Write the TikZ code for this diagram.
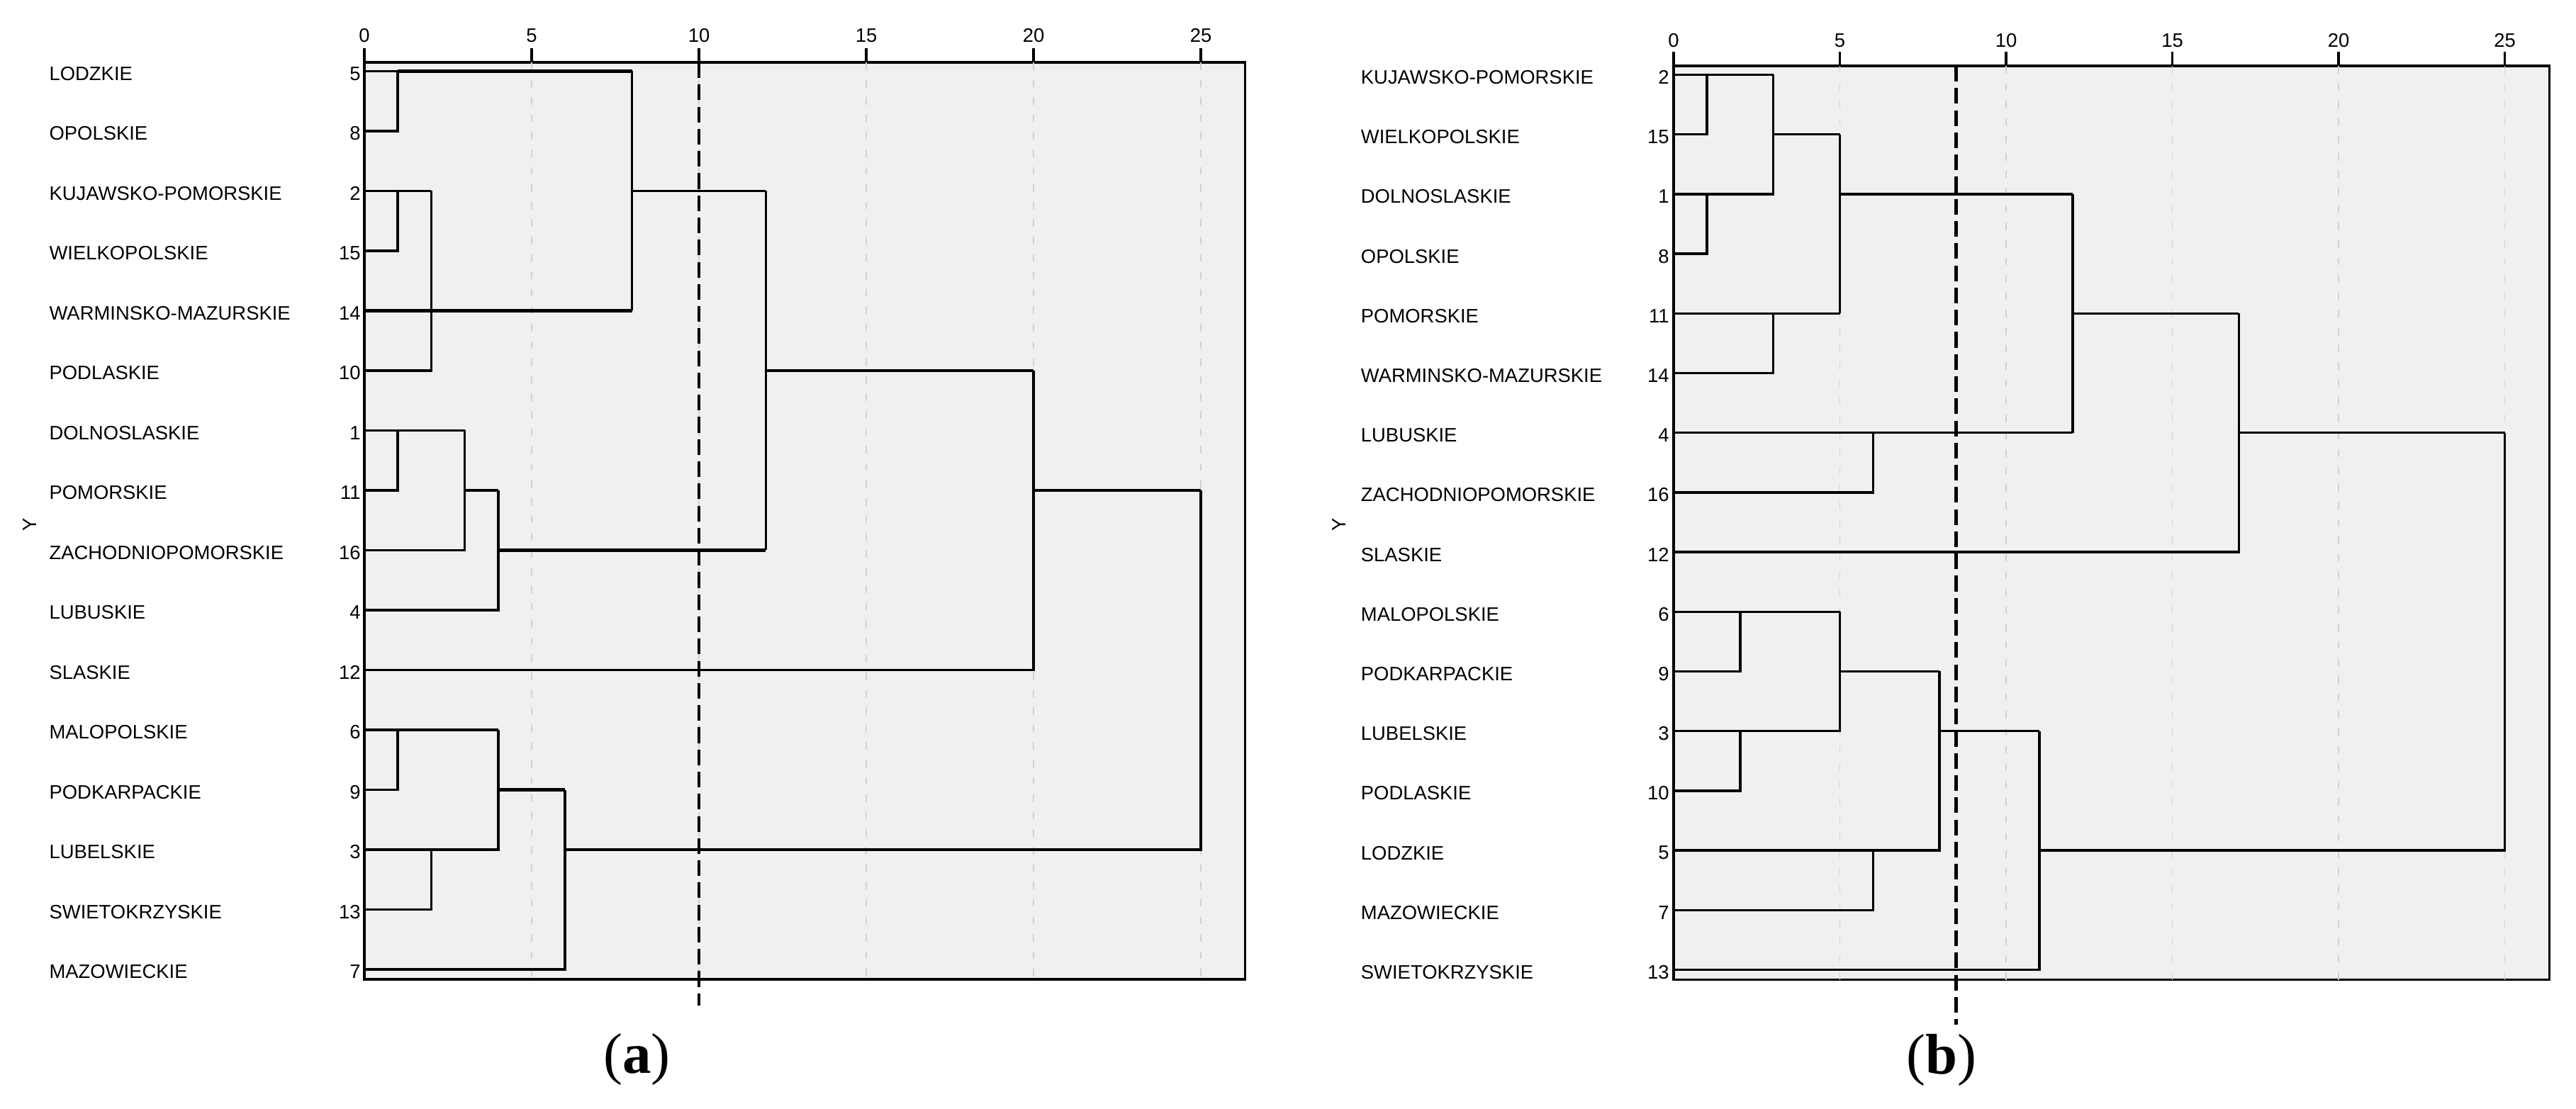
\documentclass[tikz,border=0pt]{standalone}
\usepackage{fontspec}
\setmainfont{Liberation Sans}
\newfontfamily\capfont{Liberation Serif}
\tikzset{
  frame/.style={draw=black,line width=0.9pt,fill=black!6},
  gridline/.style={draw=black!18,line width=0.55pt,dash pattern=on 3pt off 4pt},
  link/.style={line width=1pt},
  heavy/.style={line width=1.6pt},
  cutline/.style={line width=1.3pt,dash pattern=on 6.3pt off 2.6pt},
  lab/.style={anchor=west,inner sep=0pt,yshift=-1pt,font=\fontsize{7.8}{9}\selectfont},
  num/.style={anchor=east,inner sep=0pt,yshift=-1pt,font=\fontsize{7.8}{9}\selectfont},
  panel/.style={font=\capfont\fontsize{23}{26}\selectfont}
}
\begin{document}
\begin{tikzpicture}
	\useasboundingbox (0,0) rectangle (36.34,15.64);
	% (a)
	\begin{scope}[shift={(5.14,14.635)},x=0.472cm,y=-0.845cm]
	\draw[frame] (0,-0.148) rectangle (26.32,15.166);
	\foreach \v in {5,10,...,25} \draw[gridline] (\v,-0.148)--(\v,15.166);
	\foreach \v in {0,5,...,25} {
		\draw[link] (\v,-0.148)--(\v,-0.385);
		\node[num,anchor=center] (a-t\v) at (\v,-0.633) {\v};
	}
	\foreach \name/\id [count=\r from 0] in {LODZKIE/5,OPOLSKIE/8,KUJAWSKO-POMORSKIE/2,WIELKOPOLSKIE/15,WARMINSKO-MAZURSKIE/14,PODLASKIE/10,DOLNOSLASKIE/1,POMORSKIE/11,ZACHODNIOPOMORSKIE/16,LUBUSKIE/4,SLASKIE/12,MALOPOLSKIE/6,PODKARPACKIE/9,LUBELSKIE/3,SWIETOKRZYSKIE/13,MAZOWIECKIE/7} {
		\node[lab] (a-l\r) at (-9.43,\r) {\name};
		\node[num] (a-n\r) at (-0.1,\r) {\id};
	}
	\node[lab,anchor=center,rotate=90] (a-y) at (-10,7.53) {Y};
	\draw[link] (0,1)-|(1,0);
	\draw[link] (0,0)--(1,0);
	\draw[heavy] (1,0)--(8,0);
	\draw[link] (0,3)-|(1,2);
	\draw[link] (0,2)--(2,2);
	\draw[link] (0,5)-|(2,2);
	\draw[heavy] (0,4)--(8,4);
	\draw[link] (8,0)--(8,4);
	\draw[link] (8,2)--(12,2);
	\draw[link] (0,7)-|(1,6);
	\draw[link] (0,6)--(3,6);
	\draw[link] (0,8)-|(3,6);
	\draw[link] (3,7)--(4,7);
	\draw[link] (0,9)-|(4,7);
	\draw[heavy] (4,8)--(12,8);
	\draw[link] (12,2)--(12,8);
	\draw[link] (12,5)--(20,5);
	\draw[link] (0,10)-|(20,5);
	\draw[link] (20,7)--(25,7);
	\draw[link] (0,12)-|(1,11);
	\draw[link] (0,11)--(4,11);
	\draw[link] (0,14)-|(2,13);
	\draw[link] (0,13)-|(4,11);
	\draw[heavy] (4,12)--(6,12);
	\draw[link] (0,15)-|(6,12);
	\draw[link] (6,13)-|(25,7);
	\draw[cutline] (10,-0.148)--(10,15.6);
	\node[panel] (a-cap) at (8.14,16.5) {(\textbf{a})};
	\end{scope}
	% (b)
	\begin{scope}[shift={(23.61,14.585)},x=0.469cm,y=-0.842cm]
	\draw[frame] (0,-0.148) rectangle (26.35,15.17);
	\foreach \v in {5,10,...,25} \draw[gridline] (\v,-0.148)--(\v,15.17);
	\foreach \v in {0,5,...,25} {
		\draw[link] (\v,-0.148)--(\v,-0.386);
		\node[num,anchor=center] (b-t\v) at (\v,-0.616) {\v};
	}
	\foreach \name/\id [count=\r from 0] in {KUJAWSKO-POMORSKIE/2,WIELKOPOLSKIE/15,DOLNOSLASKIE/1,OPOLSKIE/8,POMORSKIE/11,WARMINSKO-MAZURSKIE/14,LUBUSKIE/4,ZACHODNIOPOMORSKIE/16,SLASKIE/12,MALOPOLSKIE/6,PODKARPACKIE/9,LUBELSKIE/3,PODLASKIE/10,LODZKIE/5,MAZOWIECKIE/7,SWIETOKRZYSKIE/13} {
		\node[lab] (b-l\r) at (-9.42,\r) {\name};
		\node[num] (b-n\r) at (-0.12,\r) {\id};
	}
	\node[lab,anchor=center,rotate=90] (b-y) at (-10.06,7.5) {Y};
	\draw[link] (0,1)-|(1,0);
	\draw[link] (0,0)--(3,0);
	\draw[link] (0,3)-|(1,2);
	\draw[link] (0,2)-|(3,0);
	\draw[link] (3,1)--(5,1);
	\draw[link] (0,5)-|(3,4);
	\draw[link] (0,4)--(5,4);
	\draw[link] (5,1)--(5,4);
	\draw[link] (5,2)--(12,2);
	\draw[link] (0,7)-|(6,6);
	\draw[link] (0,6)--(12,6);
	\draw[link] (12,2)--(12,6);
	\draw[link] (12,4)--(17,4);
	\draw[link] (0,8)-|(17,4);
	\draw[link] (17,6)--(25,6);
	\draw[link] (0,10)-|(2,9);
	\draw[link] (0,9)--(5,9);
	\draw[link] (0,12)-|(2,11);
	\draw[link] (0,11)-|(5,9);
	\draw[link] (5,10)--(8,10);
	\draw[link] (0,14)-|(6,13);
	\draw[link] (0,13)-|(8,10);
	\draw[link] (8,11)--(11,11);
	\draw[link] (0,15)-|(11,11);
	\draw[link] (11,13)-|(25,6);
	\draw[cutline] (8.5,-0.148)--(8.5,15.92);
	\node[panel] (b-cap) at (8.06,16.51) {(\textbf{b})};
	\end{scope}
\end{tikzpicture}
\end{document}
